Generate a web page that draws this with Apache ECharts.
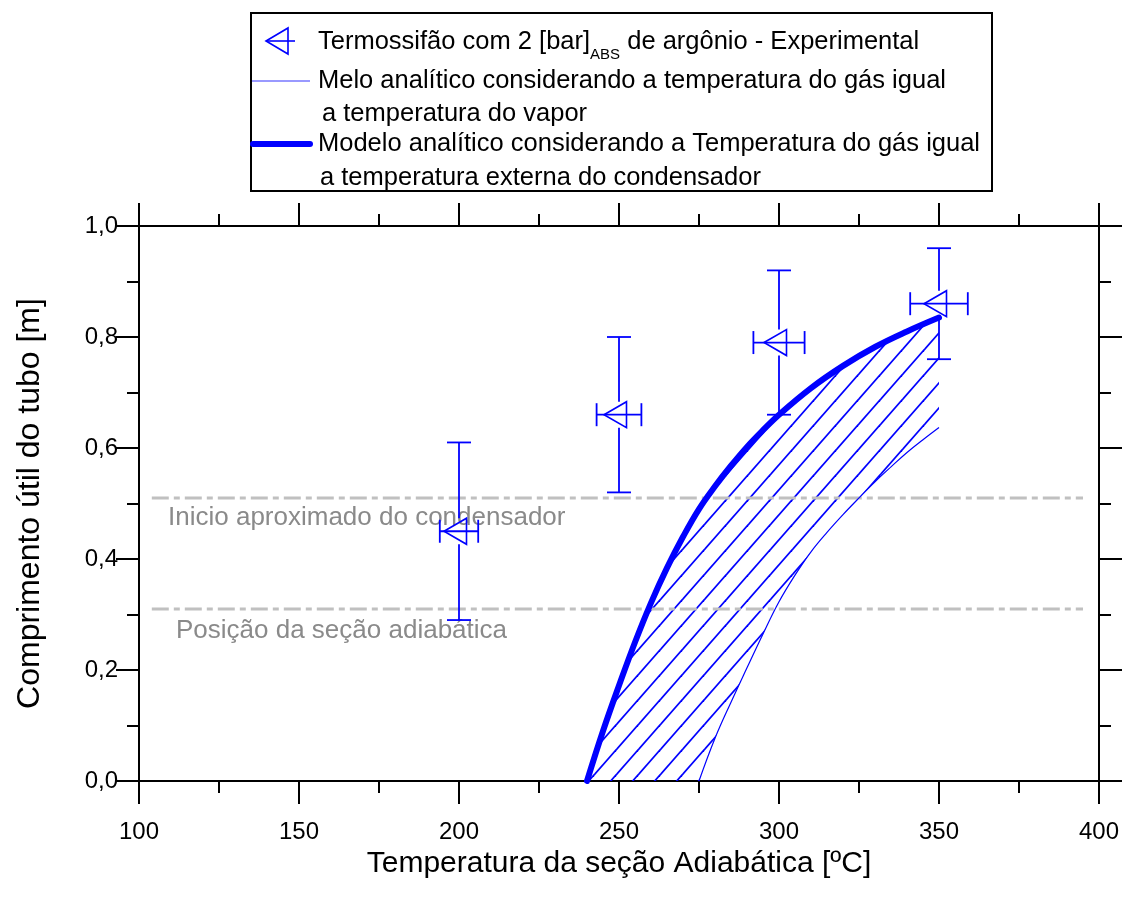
<!DOCTYPE html>
<html>
<head>
<meta charset="utf-8">
<script src="https://cdn.jsdelivr.net/npm/echarts@6/dist/echarts.min.js"></script>
<style>
  html, body { margin: 0; padding: 0; background: #fff; }
  #chart { width: 1127px; height: 902px; }
</style>
</head>
<body>
<div id="chart"></div>
<script>
// Experimental points (argon charge 2 bar abs) with uncertainties
const expTemp = [200, 250, 300, 350];
const expLength = [0.45, 0.66, 0.79, 0.86];
const expTempErr = [6, 7, 8, 9];
const expLengthErr = [0.16, 0.14, 0.13, 0.10];

// Analytical model: gas temperature equal to vapour temperature
const vaporModelTemp = [275, 280, 285, 290, 295, 300, 305, 310, 315, 320, 325, 330, 335, 340, 345, 350];
const vaporModelLength = [0.0, 0.077, 0.142, 0.204, 0.265, 0.323, 0.371, 0.413, 0.448, 0.48, 0.51, 0.539, 0.566, 0.592, 0.615, 0.637];

// Analytical model: gas temperature equal to condenser external temperature
const externalModelTemp = [240, 245, 250, 255, 260, 265, 270, 275, 280, 285, 290, 295, 300, 310, 320, 330, 340, 350];
const externalModelLength = [0.0, 0.09, 0.172, 0.25, 0.321, 0.384, 0.44, 0.49, 0.531, 0.568, 0.602, 0.632, 0.66, 0.708, 0.748, 0.782, 0.81, 0.835];

// Reference positions along the tube [m]
const condenserStart = 0.51;
const adiabaticSection = 0.31;
const referenceSpan = [104, 395];

const BLUE = '#0000ff';
const FONT = 'Liberation Sans, Arial, Helvetica, sans-serif';

function pairs(xs, ys) { return xs.map((x, i) => [x, ys[i]]); }

// Diagonal hatch tile
function makeHatch() {
  const w = 22, h = 25;
  const c = document.createElement('canvas');
  c.width = w; c.height = h;
  const g = c.getContext('2d');
  g.strokeStyle = BLUE;
  g.lineWidth = 1.8;
  for (let k = -1; k <= 1; k++) {
    g.beginPath();
    g.moveTo(k * w - w, 2 * h);
    g.lineTo((k + 1) * w + w, -h);
    g.stroke();
  }
  return c;
}
const hatch = { image: makeHatch(), repeat: 'repeat' };

const chart = echarts.init(document.getElementById('chart'), null, { renderer: 'canvas' });

const tickStyle = { color: '#000', width: 2 };
function xAxisBase(pos) {
  return {
    type: 'value', position: pos, min: 100, max: 400, interval: 50,
    axisLine: { show: true, onZero: false, lineStyle: { color: '#000', width: 2 } },
    axisTick: { show: true, inside: false, length: 23, lineStyle: tickStyle },
    minorTick: { show: true, splitNumber: 2, length: 12, lineStyle: tickStyle },
    splitLine: { show: false },
    minorSplitLine: { show: false }
  };
}
function yAxisBase(pos) {
  return {
    type: 'value', position: pos, min: 0, max: 1, interval: 0.2,
    axisLine: { show: true, onZero: false, lineStyle: { color: '#000', width: 2 } },
    axisTick: { show: true, inside: false, length: 23, lineStyle: tickStyle },
    minorTick: { show: true, splitNumber: 2, length: 12, lineStyle: tickStyle },
    splitLine: { show: false },
    minorSplitLine: { show: false }
  };
}

const xBottom = Object.assign(xAxisBase('bottom'), {
  axisLabel: { color: '#000', fontSize: 24, fontFamily: FONT, margin: 39 },
  name: 'Temperatura da seção Adiabática [ºC]',
  nameLocation: 'middle', nameGap: 63,
  nameTextStyle: { color: '#000', fontSize: 30, fontFamily: FONT }
});
const xTop = Object.assign(xAxisBase('top'), { axisLabel: { show: false } });
const yLeft = Object.assign(yAxisBase('left'), {
  axisLabel: {
    color: '#000', fontSize: 24, fontFamily: FONT, margin: 21,
    formatter: v => v.toFixed(1).replace('.', ',')
  },
  name: 'Comprimento útil do tubo [m]',
  nameLocation: 'middle', nameGap: 93,
  nameTextStyle: { color: '#000', fontSize: 32, fontFamily: FONT }
});
const yRight = Object.assign(yAxisBase('right'), { axisLabel: { show: false } });

function refLine(value) {
  return {
    type: 'line', xAxisIndex: 0, yAxisIndex: 0, symbol: 'none', silent: true, z: 2,
    data: referenceSpan.map(x => [x, value]),
    lineStyle: { color: '#c0c0c0', width: 3, type: [17, 5, 6, 5] }
  };
}

// Error bars and open left-pointing triangles
function renderPoint(params, api) {
  const x = api.value(0), y = api.value(1), ex = api.value(2), ey = api.value(3);
  const p = api.coord([x, y]);
  const l = api.coord([x - ex, y]);
  const r = api.coord([x + ex, y]);
  const t = api.coord([x, y + ey]);
  const b = api.coord([x, y - ey]);
  const bar = { stroke: BLUE, lineWidth: 1.8, fill: null };
  const capH = 11.5, capW = 12, half = 13;
  const seg = (x1, y1, x2, y2) => ({ type: 'line', shape: { x1, y1, x2, y2 }, style: bar });
  return {
    type: 'group',
    children: [
      seg(l[0], p[1], r[0], p[1]),
      seg(l[0], p[1] - capH, l[0], p[1] + capH),
      seg(r[0], p[1] - capH, r[0], p[1] + capH),
      seg(p[0], t[1], p[0], p[1] - half),
      seg(p[0], p[1] + half, p[0], b[1]),
      seg(p[0] - capW, t[1], p[0] + capW, t[1]),
      seg(p[0] - capW, b[1], p[0] + capW, b[1]),
      {
        type: 'polygon',
        shape: { points: [[p[0] - 15, p[1]], [p[0] + 7.5, p[1] - half], [p[0] + 7.5, p[1] + half]] },
        style: { stroke: BLUE, lineWidth: 1.6, fill: null }
      }
    ]
  };
}

// Hatched band between both model curves
function renderBand(params, api) {
  const pts = [];
  for (let i = 0; i < externalModelTemp.length; i++) pts.push(api.coord([externalModelTemp[i], externalModelLength[i]]));
  for (let i = vaporModelTemp.length - 1; i >= 0; i--) pts.push(api.coord([vaporModelTemp[i], vaporModelLength[i]]));
  return { type: 'polygon', shape: { points: pts }, style: { fill: hatch, stroke: null } };
}

const legendX = 318;
const option = {
  backgroundColor: '#fff',
  animation: false,
  grid: { left: 139, right: 28, top: 226, bottom: 121, containLabel: false, outerBoundsMode: 'none' },
  xAxis: [xBottom, xTop],
  yAxis: [yLeft, yRight],
  series: [
    {
      type: 'custom', xAxisIndex: 0, yAxisIndex: 0, silent: true, z: 1,
      renderItem: renderBand, data: [[300, 0.5]]
    },
    refLine(condenserStart),
    refLine(adiabaticSection),
    {
      name: 'Melo analítico considerando a temperatura do gás igual a temperatura do vapor',
      type: 'line', symbol: 'none', smooth: 0.4, z: 3,
      data: pairs(vaporModelTemp, vaporModelLength),
      lineStyle: { color: BLUE, width: 1.2 }
    },
    {
      name: 'Modelo analítico considerando a Temperatura do gás igual a temperatura externa do condensador',
      type: 'line', symbol: 'none', smooth: 0.4, z: 4,
      data: pairs(externalModelTemp, externalModelLength),
      lineStyle: { color: BLUE, width: 6, cap: 'round', join: 'round' }
    },
    {
      name: 'Termossifão com 2 [bar]ABS de argônio - Experimental',
      type: 'custom', z: 5, renderItem: renderPoint,
      encode: { x: 0, y: 1 },
      data: expTemp.map((t, i) => [t, expLength[i], expTempErr[i], expLengthErr[i]])
    }
  ],
  graphic: [
    {
      type: 'rect', silent: true,
      shape: { x: 251, y: 13, width: 741, height: 178 },
      style: { fill: '#fff', stroke: '#000', lineWidth: 2 }
    },
    {
      type: 'polygon', silent: true,
      shape: { points: [[266, 41], [288, 28], [288, 54]] },
      style: { fill: null, stroke: BLUE, lineWidth: 1.6 }
    },
    { type: 'line', silent: true, shape: { x1: 266, y1: 41, x2: 295, y2: 41 }, style: { stroke: BLUE, lineWidth: 1.6 } },
    { type: 'line', silent: true, shape: { x1: 252, y1: 81, x2: 310, y2: 81 }, style: { stroke: BLUE, lineWidth: 1, opacity: 0.8 } },
    { type: 'line', silent: true, shape: { x1: 253, y1: 144, x2: 310, y2: 144 }, style: { stroke: BLUE, lineWidth: 6, lineCap: 'round' } },
    {
      type: 'text', silent: true, x: legendX, y: 42,
      style: {
        text: 'Termossifão com 2 [bar]{sub|ABS} de argônio - Experimental',
        fill: '#000', fontSize: 25.5, fontFamily: FONT, lineHeight: 40, verticalAlign: 'middle',
        rich: { sub: { fontSize: 15, fontFamily: FONT, lineHeight: 15, verticalAlign: 'bottom', fill: '#000' } }
      }
    },
    { type: 'text', silent: true, x: legendX, y: 81, style: { text: 'Melo analítico considerando a temperatura do gás igual', fill: '#000', fontSize: 25.5, fontFamily: FONT, verticalAlign: 'middle' } },
    { type: 'text', silent: true, x: legendX + 4, y: 114, style: { text: 'a temperatura do vapor', fill: '#000', fontSize: 25.5, fontFamily: FONT, verticalAlign: 'middle' } },
    { type: 'text', silent: true, x: legendX, y: 144, style: { text: 'Modelo analítico considerando a Temperatura do gás igual', fill: '#000', fontSize: 25.5, fontFamily: FONT, verticalAlign: 'middle' } },
    { type: 'text', silent: true, x: legendX + 2, y: 178, style: { text: 'a temperatura externa do condensador', fill: '#000', fontSize: 25.5, fontFamily: FONT, verticalAlign: 'middle' } },
    { type: 'text', silent: true, z: 0, x: 168, y: 518, style: { text: 'Inicio aproximado do condensador', fill: '#8a8a8a', fontSize: 26, fontFamily: FONT, verticalAlign: 'middle' } },
    { type: 'text', silent: true, z: 0, x: 176, y: 631, style: { text: 'Posição da seção adiabática', fill: '#8a8a8a', fontSize: 26, fontFamily: FONT, verticalAlign: 'middle' } }
  ]
};

chart.setOption(option);
</script>
</body>
</html>
